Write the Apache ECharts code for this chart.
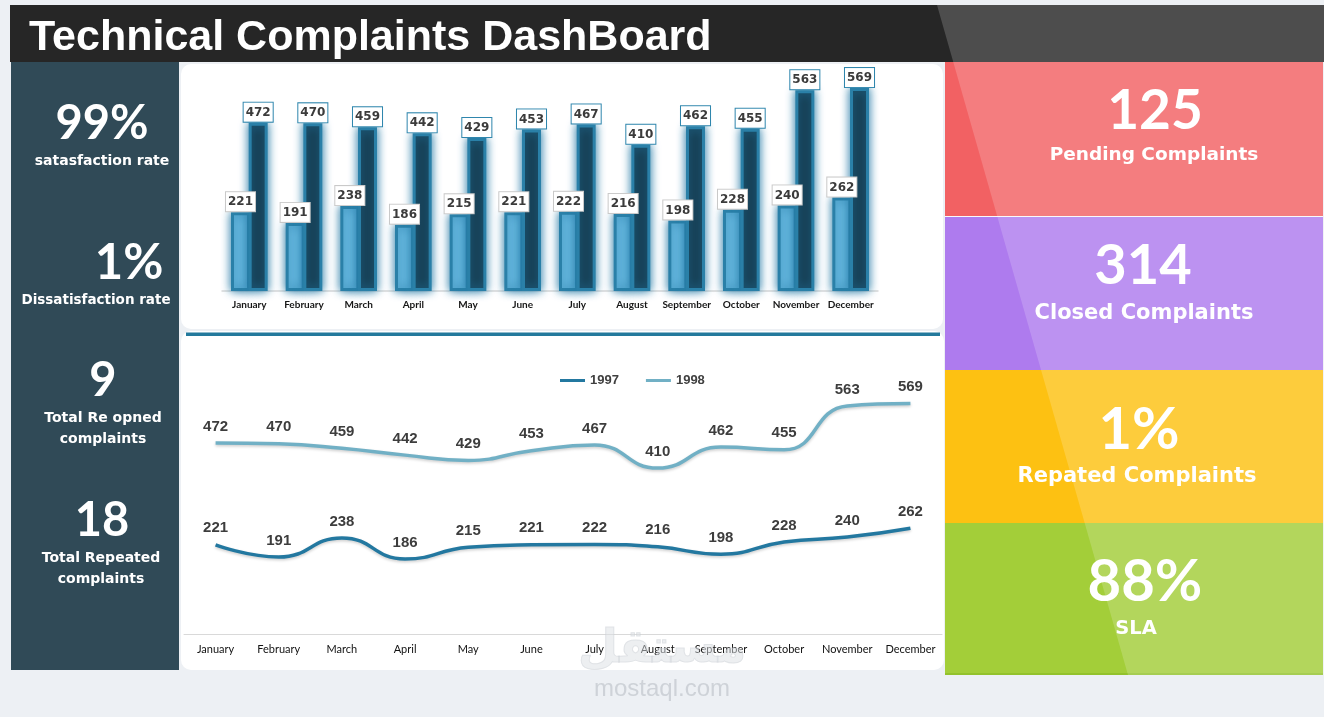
<!DOCTYPE html>
<html>
<head>
<meta charset="utf-8">
<script src="https://cdn.jsdelivr.net/npm/echarts@6/dist/echarts.min.js"></script>
<style>
html,body{margin:0;padding:0;background:#edf0f4;}
#main{width:1324px;height:717px;}
</style>
</head>
<body>
<div id="main"></div>
<script>
// ---------- data ----------
const months = ['January','February','March','April','May','June','July','August','September','October','November','December'];
const series1997 = [221,191,238,186,215,221,222,216,198,228,240,262];
const series1998 = [472,470,459,442,429,453,467,410,462,455,563,569];
const seriesNames = ['1997','1998'];
const titleText = 'Technical Complaints DashBoard';
const leftKpiValues = ['99%','1%','9','18'];
const leftKpiLabels = [['satasfaction rate'],['Dissatisfaction rate'],['Total Re opned','complaints'],['Total Repeated','complaints']];
const rightKpiValues = ['125','314','1%','88%'];
const rightKpiLabels = ['Pending Complaints','Closed Complaints','Repated Complaints','SLA'];
const watermark = ['مستقل','mostaql.com'];

// ---------- layout / style ----------
const WORD_FONT = 'DejaVu Sans';
const NUM_FONT = 'Lato';
const leftPos = [
  {vx:102, vy:124, vs:47, l:[[102,161]], ls:14},
  {vx:129, vy:263, vs:49, l:[[96,300]], ls:13.5},
  {vx:103, vy:381, vs:47, l:[[103,418],[103,439]], ls:14},
  {vx:102, vy:521, vs:47, l:[[101,558],[101,579]], ls:14}
];
const rightPanels = [
  {y:62, h:154, color:'#f26163', vx:1155, vy:111, vs:55, lx:1154, ly:155, ls:18.5},
  {y:217, h:153, color:'#ae7bee', vx:1143, vy:266, vs:56, lx:1144, ly:314, ls:21},
  {y:370, h:153, color:'#fdc112', vx:1139, vy:430, vs:58, lx:1137, ly:477, ls:21},
  {y:523, h:152, color:'#a3ce39', vx:1145, vy:582, vs:58, lx:1136, ly:629, ls:19.5}
];

const g = [];
// title bar
g.push({type:'rect', z:-10, shape:{x:10,y:5,width:1314,height:57}, style:{fill:'#262626'}});
// left panel
g.push({type:'rect', z:-10, shape:{x:11,y:62,width:168,height:608}, style:{fill:'#304a57'}});
// middle white panels
g.push({type:'rect', z:-10, shape:{x:181,y:64,width:762,height:265,r:10}, style:{fill:'#ffffff'}});
g.push({type:'rect', z:-10, shape:{x:181,y:331,width:763,height:339,r:10}, style:{fill:'#ffffff'}});
// separator
g.push({type:'rect', z:-9, shape:{x:186,y:332.5,width:754,height:3.5}, style:{fill:'#23799c'}});
// right panels
rightPanels.forEach(p => {
  g.push({type:'rect', z:-10, shape:{x:945,y:p.y,width:378,height:p.h}, style:{fill:p.color}});
});
g.push({type:'rect', z:-9, shape:{x:945,y:216,width:378,height:1}, style:{fill:'rgba(255,255,255,0.6)'}});
g.push({type:'rect', z:-9, shape:{x:945,y:673,width:378,height:2}, style:{fill:'#93c22c'}});
// diagonal light overlay
g.push({type:'polygon', z:-8, shape:{points:[[937,5],[1324,5],[1324,675],[1128,675]]}, style:{fill:'rgba(255,255,255,0.18)'}});
// title
g.push({type:'text', z:20, x:29, y:38, style:{text:titleText, fill:'#ffffff', font:'bold 43px "Liberation Sans"', textAlign:'left', textVerticalAlign:'middle'}});
// left kpis
leftPos.forEach((p,i) => {
  g.push({type:'text', z:20, x:p.vx, y:p.vy, style:{text:leftKpiValues[i], fill:'#ffffff', font:'bold '+p.vs+'px '+NUM_FONT, textAlign:'center', textVerticalAlign:'middle'}});
  leftKpiLabels[i].forEach((t,j) => {
    g.push({type:'text', z:20, x:p.l[j][0], y:p.l[j][1], style:{text:t, fill:'#ffffff', font:'bold '+p.ls+'px "'+WORD_FONT+'"', textAlign:'center', textVerticalAlign:'middle'}});
  });
});
// right kpis
rightPanels.forEach((p,i) => {
  g.push({type:'text', z:20, x:p.vx, y:p.vy, style:{text:rightKpiValues[i], fill:'#ffffff', font:'bold '+p.vs+'px '+NUM_FONT, textAlign:'center', textVerticalAlign:'middle'}});
  g.push({type:'text', z:20, x:p.lx, y:p.ly, style:{text:rightKpiLabels[i], fill:'#ffffff', font:'bold '+p.ls+'px "'+WORD_FONT+'"', textAlign:'center', textVerticalAlign:'middle'}});
});
// watermark
g.push({type:'text', z:30, x:662, y:650, style:{text:watermark[0], fill:'rgba(220,223,228,0.5)', stroke:'rgba(200,204,210,0.5)', lineWidth:1, font:'bold 46px "DejaVu Sans"', textAlign:'center', textVerticalAlign:'middle'}});
g.push({type:'text', z:30, x:662, y:689, style:{text:watermark[1], fill:'rgba(200,204,210,0.85)', font:'24px "Liberation Sans"', textAlign:'center', textVerticalAlign:'middle'}});

const lightBar = '#68bae1';
const darkBar = '#153b4f';
const line97 = '#2378a0';
const line98 = '#71b0c5';
const glow = '#2a80a8';

const barLabel = (border) => ({
  show:true, position:'top', distance:1,
  backgroundColor:'#ffffff', borderColor:border, borderWidth:1,
  padding:[3,2,2,2], lineHeight:14, fontSize:12, fontWeight:'bold', fontFamily:'DejaVu Sans', color:'#3b3b3b'
});
const lineLabel = {show:true, position:'top', distance:9, fontSize:15, fontWeight:'bold', fontFamily:'Liberation Sans', color:'#3d3d3d'};

const barItem = (c) => ({color:c, borderColor:glow, borderWidth:3, shadowBlur:10, shadowColor:'rgba(38,122,166,1)'});

const option = {
  backgroundColor:'#edf0f4',
  animation:false,
  graphic:{elements:g},
  legend:{
    left:555, top:369, itemWidth:25, itemHeight:3, itemGap:27,
    textStyle:{fontSize:13, fontWeight:'bold', fontFamily:'Liberation Sans', color:'#404040'},
    data:[
      {name:seriesNames[0], icon:'rect', itemStyle:{color:line97}},
      {name:seriesNames[1], icon:'rect', itemStyle:{color:line98}}
    ]
  },
  grid:[
    {left:222, top:77, width:656, height:214},
    {left:184, top:391, width:758, height:243.5}
  ],
  xAxis:[
    {gridIndex:0, type:'category', data:months,
     axisLine:{lineStyle:{color:'#d9d9d9', width:1.5}}, axisTick:{show:false},
     axisLabel:{fontSize:10, fontWeight:'bold', fontFamily:'Lato', color:'#161616', margin:9, interval:0}},
    {gridIndex:1, type:'category', data:months,
     axisLine:{lineStyle:{color:'#d9d9d9', width:1}}, axisTick:{show:false},
     axisLabel:{fontSize:11, fontFamily:'Lato', color:'#111111', margin:9, interval:0}}
  ],
  yAxis:[
    {gridIndex:0, type:'value', min:0, max:600, show:false, splitLine:{show:false}},
    {gridIndex:1, type:'value', min:0, max:600, show:false, splitLine:{show:false}}
  ],
  series:[
    {name:seriesNames[0], type:'line', xAxisIndex:1, yAxisIndex:1, data:series1997, smooth:0.5,
     symbol:'circle', symbolSize:0.1, showSymbol:true,
     lineStyle:{color:line97, width:3.5, shadowColor:'rgba(0,0,0,0.2)', shadowBlur:3, shadowOffsetY:1.5},
     itemStyle:{color:line97}, label:lineLabel},
    {name:seriesNames[1], type:'line', xAxisIndex:1, yAxisIndex:1, data:series1998, smooth:0.5,
     symbol:'circle', symbolSize:0.1, showSymbol:true,
     lineStyle:{color:line98, width:3.5, shadowColor:'rgba(0,0,0,0.2)', shadowBlur:3, shadowOffsetY:1.5},
     itemStyle:{color:line98}, label:lineLabel},
    {name:seriesNames[0], type:'bar', xAxisIndex:0, yAxisIndex:0, data:series1997, barWidth:19, barGap:'-7%',
     itemStyle:barItem(lightBar), label:barLabel('#c9c9c9')},
    {name:seriesNames[1], type:'bar', xAxisIndex:0, yAxisIndex:0, data:series1998, barWidth:19, barGap:'-7%',
     itemStyle:barItem(darkBar), label:barLabel('#2f86ad')}
  ]
};
const chart = echarts.init(document.getElementById('main'), null, {renderer:'canvas'});
chart.setOption(option);
</script>
</body>
</html>
